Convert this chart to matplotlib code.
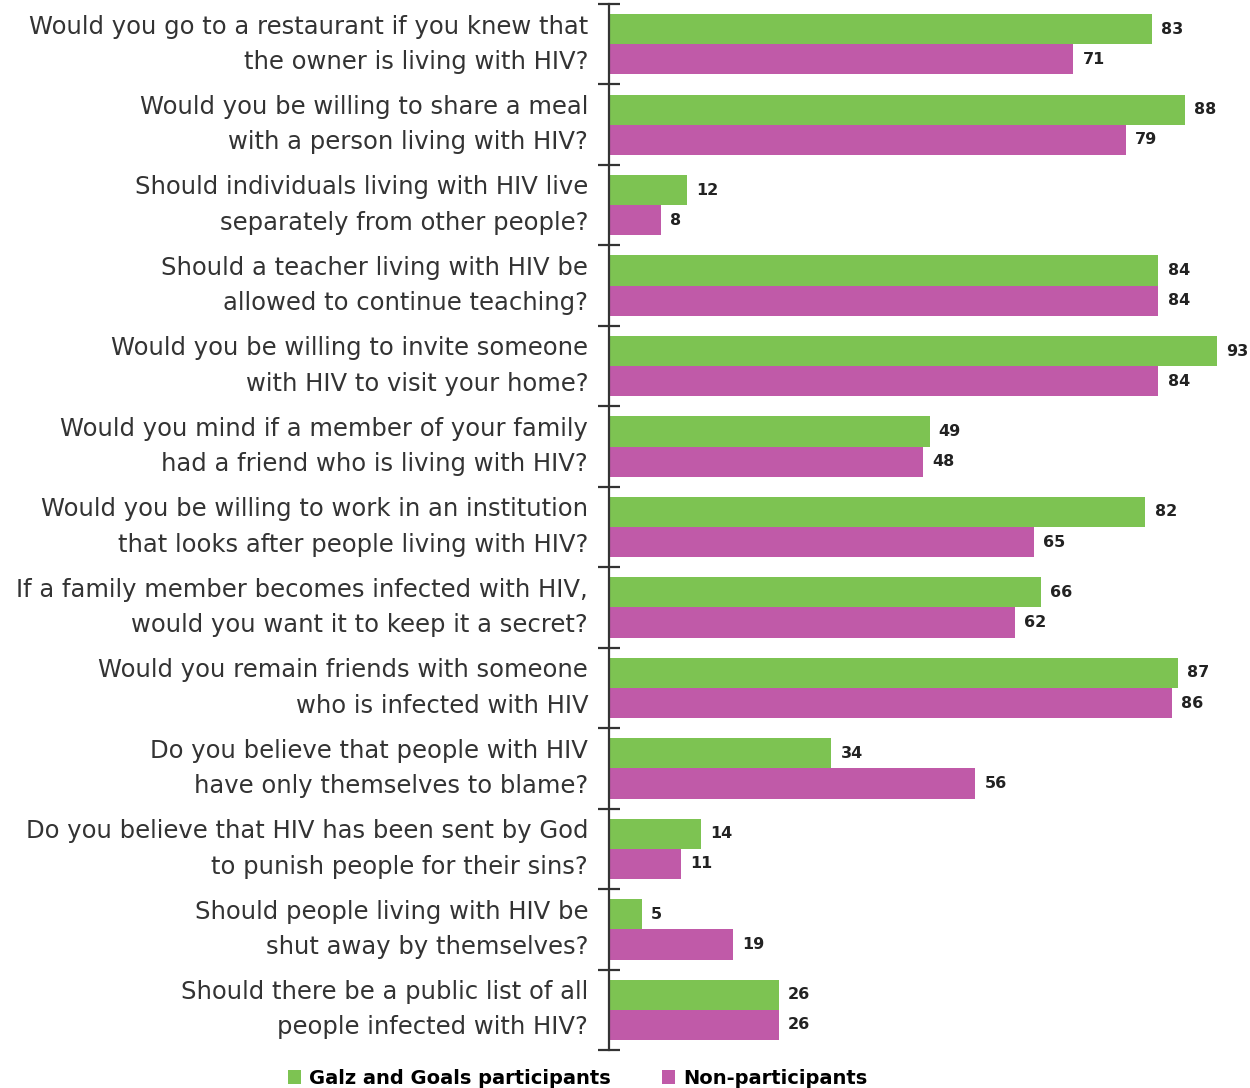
import matplotlib.pyplot as plt
import numpy as np

questions = [
    "Would you go to a restaurant if you knew that\nthe owner is living with HIV?",
    "Would you be willing to share a meal\nwith a person living with HIV?",
    "Should individuals living with HIV live\nseparately from other people?",
    "Should a teacher living with HIV be\nallowed to continue teaching?",
    "Would you be willing to invite someone\nwith HIV to visit your home?",
    "Would you mind if a member of your family\nhad a friend who is living with HIV?",
    "Would you be willing to work in an institution\nthat looks after people living with HIV?",
    "If a family member becomes infected with HIV,\nwould you want it to keep it a secret?",
    "Would you remain friends with someone\nwho is infected with HIV",
    "Do you believe that people with HIV\nhave only themselves to blame?",
    "Do you believe that HIV has been sent by God\nto punish people for their sins?",
    "Should people living with HIV be\nshut away by themselves?",
    "Should there be a public list of all\npeople infected with HIV?",
]
participants = [83, 88, 12, 84, 93, 49, 82, 66, 87, 34, 14, 5, 26]
non_participants = [71, 79, 8, 84, 84, 48, 65, 62, 86, 56, 11, 19, 26]

green = "#7dc352"
magenta = "#c05aa8"

fig = plt.figure(figsize=(12.5, 10.88), dpi=100)
ax = fig.add_axes([0.4872, 0.0349, 0.5128, 0.9614])

n = len(questions)
y = np.arange(n)
h = 0.375

ax.barh(y - h / 2, participants, height=h, color=green,
        label="Galz and Goals participants")
ax.barh(y + h / 2, non_participants, height=h, color=magenta,
        label="Non-participants")

for yi, v in zip(y, participants):
    ax.text(v + 1.4, yi - h / 2, str(v), va="center", ha="left",
            fontsize=11.5, fontweight="bold", color="#222222")
for yi, v in zip(y, non_participants):
    ax.text(v + 1.4, yi + h / 2, str(v), va="center", ha="left",
            fontsize=11.5, fontweight="bold", color="#222222")

ax.set_xlim(0, 98)
ax.set_ylim(n - 0.5, -0.5)

ax.set_yticks(y)
ax.set_yticklabels(questions, fontsize=17.5, color="#333333",
                   linespacing=1.6, family="DejaVu Sans")
for lbl in ax.get_yticklabels():
    lbl.set_verticalalignment("center")
ax.tick_params(axis="y", which="major", length=0, pad=15)
ax.set_yticks(np.arange(n + 1) - 0.5, minor=True)
ax.tick_params(axis="y", which="minor", length=16, width=1.6,
               direction="inout", color="#333333")
ax.set_xticks([])

for side in ("top", "right", "bottom"):
    ax.spines[side].set_visible(False)
ax.spines["left"].set_linewidth(1.6)
ax.spines["left"].set_color("#333333")

fig.legend(loc="lower center", bbox_to_anchor=(0.462, -0.016), ncol=2,
           frameon=False, handlelength=0.7, handleheight=0.7,
           handletextpad=0.4, columnspacing=2.6,
           prop={"family": "DejaVu Sans", "weight": "bold", "size": 14})

fig.savefig("out.png", dpi=100)
